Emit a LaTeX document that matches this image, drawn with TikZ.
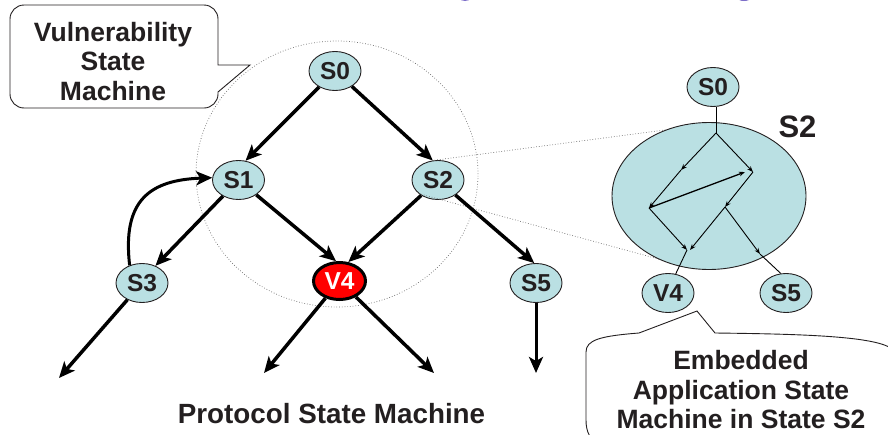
\documentclass[tikz,border=0pt]{standalone}
\usepackage{fontspec}
\setmainfont{Liberation Sans}
\usetikzlibrary{arrows.meta,shapes.geometric,calc}
\definecolor{nodefill}{RGB}{186,224,227}
\definecolor{txt}{RGB}{35,31,32}
\definecolor{dotc}{RGB}{105,105,105}
\definecolor{lav}{RGB}{125,110,200}
\tikzset{
 st/.style={ellipse,draw=txt,line width=0.9pt,fill=nodefill,minimum width=52pt,minimum height=39pt,inner sep=0pt,text=txt,font=\fontsize{24.5}{24.5}\selectfont\bfseries},
 vuln/.style={st,fill=red,text=white,line width=3pt,draw=black,minimum width=52pt,minimum height=37pt},
 bigarrow/.style={-{Stealth[length=16pt,width=14pt,inset=4pt]},line width=3.5pt,black},
 smallarrow/.style={-{Stealth[length=6pt,width=4.5pt]},line width=0.9pt,black},
 thinline/.style={line width=0.9pt,black},
 callout/.style={draw=txt,line width=0.9pt,fill=white},
 ctext/.style={align=center,text=txt,inner sep=0pt,font=\fontsize{26.5}{29.5}\selectfont\bfseries},
 dotl/.style={dotted,line width=0.7pt,draw=dotc}
}
\begin{document}
\begin{tikzpicture}[x=1pt,y=1pt]
\useasboundingbox (0,0) rectangle (888,-434);
% cut-off title fragments
\fill[lav] (465,1.5) ellipse (5 and 2.5);
\fill[lav] (744,1.5) ellipse (6 and 2.5);
% dotted vulnerability region
\draw[dotl] (337,-174) ellipse (141 and 133);
% left graph nodes
\node[st] (S0) at (335,-71) {S0};
\node[st] (S1) at (238.5,-180) {S1};
\node[st] (S2) at (438,-180) {S2};
\node[st] (S3) at (142,-283) {S3};
\node[vuln] (V4) at (339.5,-281) {V4};
\node[st] (S5) at (536,-283) {S5};
% free ends
\coordinate (e3) at (59,-378);
\coordinate (e4a) at (264,-373);
\coordinate (e4b) at (434,-373);
\coordinate (e5) at (536,-373);
% zoom lines
\coordinate (t1) at (680,-128);
\coordinate (t2) at (662,-260);
\draw[dotl] (S2.100) -- (t1);
\draw[dotl] (S2.215) -- (t2);
% embedded machine
\node[ellipse,draw=txt,line width=0.9pt,fill=nodefill,minimum width=194pt,minimum height=147pt,inner sep=0pt] (BIG) at (709,-196) {};
\node[text=txt,font=\fontsize{31}{31}\selectfont\bfseries,inner sep=0pt] (S2lab) at (797.5,-126.5) {S2};
\node[st] (S0r) at (713,-87) {S0};
\node[st] (V4r) at (668,-293) {V4};
\node[st] (S5r) at (786,-293) {S5};
\coordinate (A) at (716,-133);
\coordinate (P1) at (681,-170);
\coordinate (C) at (649,-208);
\coordinate (D) at (753,-172);
\coordinate (Dp) at (745,-172);
\coordinate (E) at (725,-207);
\coordinate (F) at (687,-250);
\coordinate (G) at (690,-250);
\coordinate (H) at (760,-254);
\draw[thinline] (S0r.south -| A) -- (A);
\draw[smallarrow] (A) -- (P1);
\draw[smallarrow] (P1) -- (C);
\draw[smallarrow] (A) -- (D);
\draw[smallarrow,line width=1.3pt] (C) -- (Dp);
\draw[smallarrow] (D) -- (E);
\draw[smallarrow] (C) -- (F);
\draw[smallarrow] (E) -- (G);
\draw[smallarrow] (E) -- (H);
\draw[thinline] (H) -- (S5r.105);
\draw[thinline] (F) -- (V4r.68);
% left graph edges
\draw[bigarrow] (S0) -- (S1.70);
\draw[bigarrow] (S0) -- (S2.105);
\draw[bigarrow] (S1) -- (S3.52);
\draw[bigarrow] (S1) -- (V4.100);
\draw[bigarrow] (S2) -- (V4.65);
\draw[bigarrow] (S2) -- (S5.95);
\draw[bigarrow,line width=3pt] (S3.125) .. controls (122,-200) and (150,-180) .. (S1.175);
\draw[bigarrow] (S3) -- (e3);
\draw[bigarrow] (V4) -- (e4a);
\draw[bigarrow] (V4) -- (e4b);
\draw[bigarrow,line width=3pt] (S5) -- (e5);
% callout 1
\draw[callout] (10,-19) -- (10,-94) arc (180:270:14) -- (204,-108) arc (270:360:14)
  -- (218,-92) -- (250,-65) -- (218,-65) -- (218,-19) arc (0:90:14) -- (24,-5) arc (90:180:14) -- cycle;
\node[ctext] (c1) at (113,-61.5) {Vulnerability\\State\\Machine};
% callout 2
\draw[callout] (586,-420) -- (586,-352) .. controls (586,-340) and (600,-336) .. (639,-333)
  -- (697,-311) -- (715,-333) .. controls (800,-334) and (880,-336) .. (893,-350)
  -- (893,-445) -- (600,-445) .. controls (590,-440) and (586,-432) .. (586,-420) -- cycle;
\node[ctext] (c2) at (741,-390) {Embedded\\Application State\\Machine in State S2};
% caption
\node[ctext,anchor=base,font=\fontsize{27.8}{30}\selectfont\bfseries] (cap) at (331.5,-423) {Protocol State Machine};
\end{tikzpicture}
\end{document}
